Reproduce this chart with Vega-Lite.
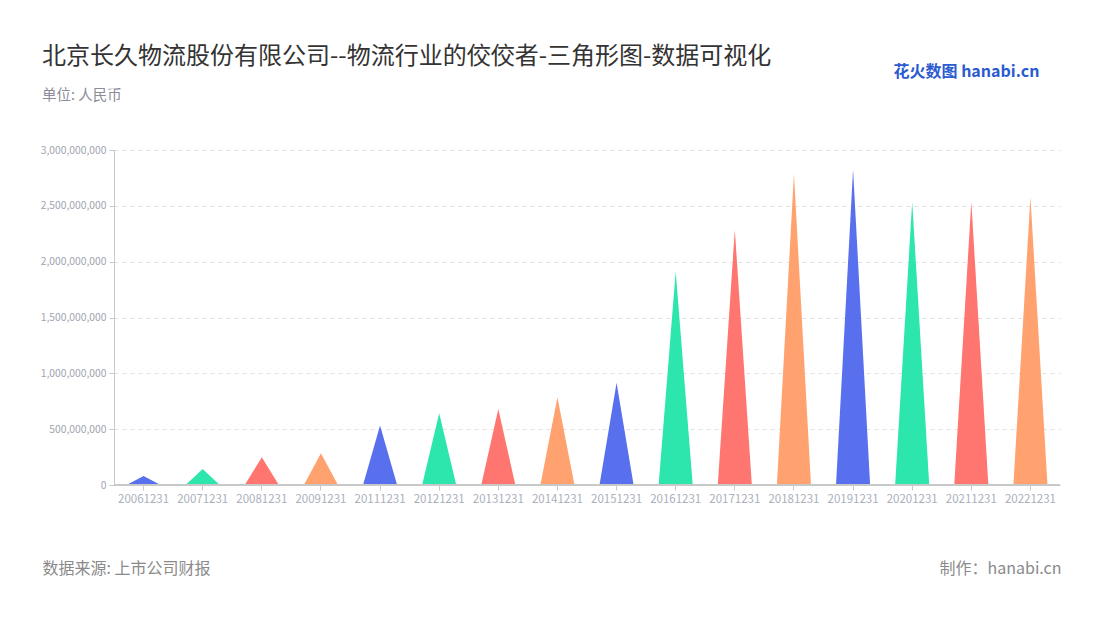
{
  "$schema": "https://vega.github.io/schema/vega-lite/v6.json",
  "width": 946,
  "height": 335,
  "autosize": {"type": "none"},
  "padding": {"left": 114, "top": 150, "right": 40, "bottom": 135},
  "background": "white",
  "config": {"font": "Noto Sans CJK SC", "view": {"stroke": null}},
  "title": {
    "text": "北京长久物流股份有限公司--物流行业的佼佼者-三角形图-数据可视化",
    "subtitle": "单位: 人民币",
    "anchor": "start",
    "frame": "group",
    "dx": -72,
    "offset": -39,
    "fontSize": 24,
    "fontWeight": "normal",
    "color": "#333333",
    "font": "Noto Sans CJK SC",
    "subtitleFont": "Noto Sans CJK SC",
    "subtitleFontSize": 14.5,
    "subtitleColor": "#8c8c9a",
    "subtitlePadding": 20
  },
  "data": {
    "values": [
      {"date": "20061231", "value": 80000000},
      {"date": "20071231", "value": 143000000},
      {"date": "20081231", "value": 248000000},
      {"date": "20091231", "value": 284000000},
      {"date": "20111231", "value": 532000000},
      {"date": "20121231", "value": 642000000},
      {"date": "20131231", "value": 680000000},
      {"date": "20141231", "value": 786000000},
      {"date": "20151231", "value": 916000000},
      {"date": "20161231", "value": 1912000000},
      {"date": "20171231", "value": 2285000000},
      {"date": "20181231", "value": 2787000000},
      {"date": "20191231", "value": 2825000000},
      {"date": "20201231", "value": 2538000000},
      {"date": "20211231", "value": 2538000000},
      {"date": "20221231", "value": 2580000000}
    ]
  },
  "layer": [
    {
      "transform": [
        {"calculate": "['p0', 'p1', 'p2']", "as": "part"},
        {"flatten": ["part"]},
        {"calculate": "datum.part === 'p1' ? datum.value : 0", "as": "yv"}
      ],
      "mark": {"type": "line", "filled": true, "strokeWidth": 0, "interpolate": "linear"},
      "encoding": {
        "x": {
          "field": "date",
          "type": "nominal",
          "scale": {"type": "band", "paddingInner": 0.135, "paddingOuter": 0.0675},
          "axis": {
            "title": "数据来源: 上市公司财报",
            "titleX": -72,
            "titleY": 88,
            "titleAlign": "left",
            "titleAnchor": "start",
            "titleBaseline": "alphabetic",
            "titleFontSize": 16,
            "titleFontWeight": "normal",
            "titleColor": "#8a8a8a",
            "labelAngle": 0,
            "labelFontSize": 11.5,
            "labelColor": "#aab0bc",
            "labelPadding": 3,
            "tickColor": "#c8c8c8",
            "tickSize": 5,
            "domainColor": "#c8c8c8",
            "grid": false
          }
        },
        "xOffset": {
          "field": "part",
          "type": "nominal",
          "sort": ["p0", "p1", "p2"]
        },
        "y": {
          "field": "yv",
          "type": "quantitative",
          "scale": {"domain": [0, 3000000000]},
          "axis": {
            "title": "花火数图 hanabi.cn",
            "titleAngle": 0,
            "titleX": 779,
            "titleY": -87,
            "titleAlign": "left",
            "titleBaseline": "top",
            "titleFontSize": 16,
            "titleFontWeight": "bold",
            "titleColor": "#2b5bd0",
            "values": [0, 500000000, 1000000000, 1500000000, 2000000000, 2500000000, 3000000000],
            "format": ",d",
            "labelFontSize": 10.3,
            "labelColor": "#a0a4b0",
            "labelPadding": 3,
            "tickColor": "#c8c8c8",
            "tickSize": 5,
            "domainColor": "#c8c8c8",
            "gridColor": "#e2e2e2",
            "gridDash": [4, 4]
          }
        },
        "order": {"field": "part", "type": "nominal"},
        "detail": {"field": "date", "type": "nominal"},
        "color": {
          "field": "date",
          "type": "nominal",
          "legend": null,
          "scale": {"range": ["#5870ee", "#2ce6ae", "#ff756f", "#ffa270"]}
        }
      }
    },
    {
      "mark": {"type": "rule", "color": "#c8c8c8"},
      "encoding": {
        "y": {
          "datum": 0,
          "type": "quantitative",
          "scale": {"domain": [0, 3000000000]},
          "axis": {
            "orient": "right",
            "title": "制作：hanabi.cn",
            "titleAngle": 0,
            "titleX": 1,
            "titleY": 423,
            "titleAlign": "right",
            "titleBaseline": "alphabetic",
            "titleFontSize": 16,
            "titleFontWeight": "normal",
            "titleColor": "#8a8a8a",
            "labels": false,
            "ticks": false,
            "domain": false,
            "grid": false
          }
        }
      }
    }
  ],
  "resolve": {"scale": {"y": "independent"}}
}
